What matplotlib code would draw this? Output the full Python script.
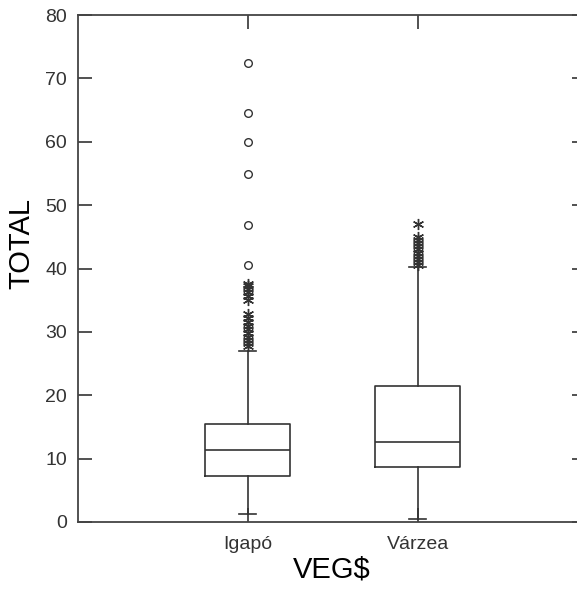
import matplotlib
matplotlib.use('Agg')
import matplotlib.pyplot as plt

plt.rcParams['font.family'] = ['Liberation Sans', 'DejaVu Sans']

groups = ['Igapó', 'Várzea']
q1 = [7.3, 8.6]
med = [11.3, 12.7]
q3 = [15.4, 21.4]
whislo = [1.2, 0.5]
whishi = [27.0, 40.2]
# far outside values (circles)
far_igapo = [72.5, 64.6, 59.9, 54.9, 46.8, 40.6]
far_varzea = []
# outside values (stars)
out_igapo = [37.6, 37.2, 36.8, 36.3, 35.7, 35.1, 32.8, 32.2, 31.6, 31.0,
             30.4, 29.8, 29.2, 28.7, 28.2, 27.7]
out_varzea = [47.0, 45.0, 44.5, 44.0, 43.5, 43.0, 42.5, 42.0, 41.5, 41.0, 40.6]

ink = '#333333'
fig = plt.figure(figsize=(5.77, 5.89), dpi=100)
ax = fig.add_axes([78/577, 1 - 522/589, (586 - 78)/577, (522 - 15)/589])

stats = []
for i in range(2):
    stats.append({'med': med[i], 'q1': q1[i], 'q3': q3[i],
                  'whislo': whislo[i], 'whishi': whishi[i], 'fliers': []})
pos = [1, 2]
ax.bxp(stats, positions=pos, widths=0.5, showfliers=False, capwidths=0.1,
       boxprops=dict(color=ink, lw=1.2),
       whiskerprops=dict(color=ink, lw=1.2),
       capprops=dict(color=ink, lw=1.2),
       medianprops=dict(color=ink, lw=1.2))

for p, far, out in zip(pos, [far_igapo, far_varzea], [out_igapo, out_varzea]):
    ax.plot([p]*len(far), far, 'o', ms=5.5, mfc='none', mec=ink, mew=1.0)
    ax.plot([p]*len(out), out, ls='none', marker=(6, 2, 0), ms=8, mec=ink, mew=1.0)

ax.set_xlim(0.0, 2.99)
ax.set_ylim(0, 80)
ax.set_yticks(range(0, 81, 10))
ax.set_xticks(pos)
ax.set_xticklabels(groups)
ax.tick_params(direction='in', length=10, width=1.2, color=ink, labelsize=14,
               labelcolor='#333333', top=True, right=True)
ax.tick_params(axis='y', pad=8)
ax.tick_params(axis='x', pad=10)
for s in ax.spines.values():
    s.set_color('#444444')
    s.set_linewidth(1.3)

ax.set_ylabel('TOTAL', fontsize=21)
ax.yaxis.set_label_coords(-0.083, 0.55)
ax.set_xlabel('VEG$', fontsize=21, labelpad=2)

fig.savefig('out.png', dpi=100)
